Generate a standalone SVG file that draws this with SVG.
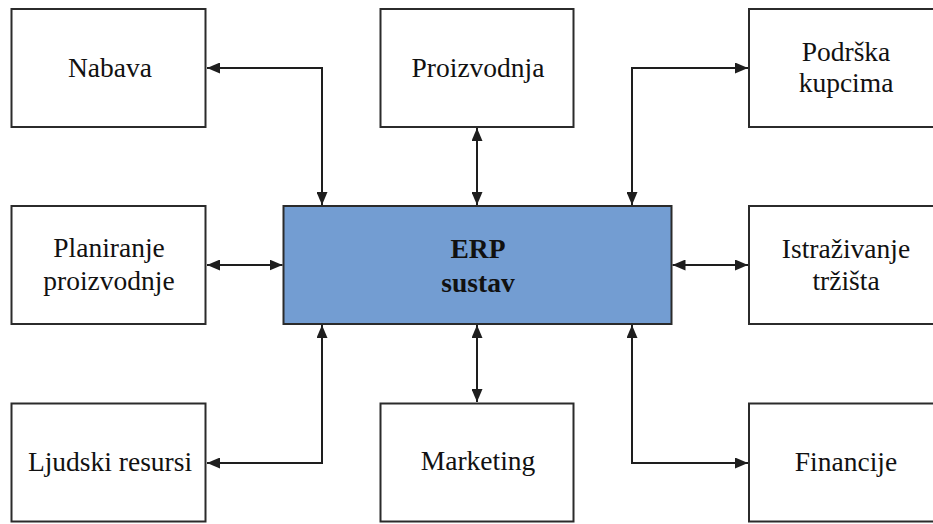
<svg xmlns="http://www.w3.org/2000/svg" width="933" height="524" viewBox="0 0 933 524">
<style>
.box{fill:#fff;stroke:#2b2b2b;stroke-width:2}
.erp{fill:#739dd2;stroke:#2b2b2b;stroke-width:2}
.t{font-family:"Liberation Serif","Times New Roman",serif;font-size:27.5px;fill:#111;text-anchor:middle}
.b{font-weight:bold}
.c{fill:none;stroke:#1e1e1e;stroke-width:2;marker-start:url(#ah);marker-end:url(#ah)}
</style>
<defs>
<marker id="ah" markerUnits="userSpaceOnUse" markerWidth="13" markerHeight="11" refX="13" refY="5.5" orient="auto-start-reverse" viewBox="0 0 13 11">
<path d="M0,0 L13,5.5 L0,11 z" fill="#1e1e1e"/>
</marker>
</defs>
<rect width="933" height="524" fill="#fff"/>
<g id="connectors">
<path class="c" d="M322,205 V68 H207"/>
<path class="c" d="M477,128 V205"/>
<path class="c" d="M632,205 V68 H748"/>
<path class="c" d="M207,265 H282.5"/>
<path class="c" d="M672.5,265 H748"/>
<path class="c" d="M322,325 V463 H207"/>
<path class="c" d="M477,325 V402"/>
<path class="c" d="M632,325 V463 H748"/>
</g>
<g id="nabava"><rect class="box" x="11.5" y="9" width="194" height="118"/><text class="t" x="110" y="77">Nabava</text></g>
<g id="proizvodnja"><rect class="box" x="380.5" y="9" width="193" height="118"/><text class="t" x="478" y="77">Proizvodnja</text></g>
<g id="podrska"><rect class="box" x="749" y="9" width="195" height="118"/><text class="t" x="846" y="61">Podrška</text><text class="t" x="846" y="92">kupcima</text></g>
<g id="planiranje"><rect class="box" x="11.5" y="206" width="194" height="118"/><text class="t" x="109" y="257">Planiranje</text><text class="t" x="109" y="290">proizvodnje</text></g>
<g id="erp"><rect class="erp" x="283.5" y="206" width="388" height="118"/><text class="t b" x="478" y="258">ERP</text><text class="t b" x="478" y="292">sustav</text></g>
<g id="istrazivanje"><rect class="box" x="749" y="206" width="195" height="118"/><text class="t" x="846" y="258">Istraživanje</text><text class="t" x="846" y="290">tržišta</text></g>
<g id="ljudski"><rect class="box" x="11.5" y="403.5" width="194" height="118"/><text class="t" x="110" y="471">Ljudski resursi</text></g>
<g id="marketing"><rect class="box" x="380.5" y="403.5" width="193" height="118"/><text class="t" x="478" y="470">Marketing</text></g>
<g id="financije"><rect class="box" x="749" y="403.5" width="195" height="118"/><text class="t" x="846" y="471">Financije</text></g>
</svg>
